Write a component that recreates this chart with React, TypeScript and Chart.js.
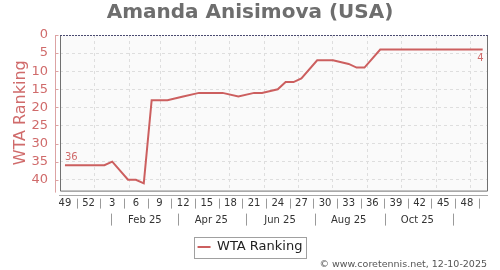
import React, { useEffect, useRef } from "react";
import { Chart, registerables } from "chart.js";

Chart.register(...registerables);

const chartTitle = "Amanda Anisimova (USA)";
const seriesLabel = "WTA Ranking";
const footerText = "© www.coretennis.net, 12-10-2025";

// one entry per week, from week 49 of 2024 to week 50 of 2025
const weekNumbers = [
  49, 50, 51, 52, 1, 2, 3, 4, 5, 6, 7, 8, 9, 10, 11, 12, 13, 14, 15, 16, 17, 18,
  19, 20, 21, 22, 23, 24, 25, 26, 27, 28, 29, 30, 31, 32, 33, 34, 35, 36, 37, 38,
  39, 40, 41, 42, 43, 44, 45, 46, 47, 48, 49, 50,
];
// null = no ranking published that week (line is joined across)
const rankings: (number | null)[] = [
  36, 36, 36, 36, 36, 36, 35, null, 40, 40, 41, 18, 18, 18, null, 17, null, 16, 16,
  16, 16, null, 17, null, 16, 16, null, 15, 13, 13, 12, null, 7, 7, 7, null, 8, 9,
  9, null, 4, 4, 4, 4, 4, 4, 4, 4, 4, 4, 4, 4, 4, 4,
];
const yTickValues = [0, 5, 10, 15, 20, 25, 30, 35, 40];
const yMaxRank = 43;

const firstWeekDate = "2024-12-06";
const monthStartDates = [
  "2025-01-01", "2025-02-01", "2025-03-01", "2025-04-01", "2025-05-01", "2025-06-01",
  "2025-07-01", "2025-08-01", "2025-09-01", "2025-10-01", "2025-11-01", "2025-12-01",
];
const monthLabels = ["Feb 25", "Apr 25", "Jun 25", "Aug 25", "Oct 25"];
const monthLabelDates = ["2025-02-15", "2025-04-15", "2025-06-15", "2025-08-15", "2025-10-15"];
const monthSeparatorDates = [
  "2025-01-16", "2025-03-16", "2025-05-16", "2025-07-16", "2025-09-16", "2025-11-16",
];

const LINE_RED = "#cc5f5f";
const TEXT_RED = "#d06b6b";
const AXIS_PINK = "#dca3a3";
const FONT = "'DejaVu Sans', sans-serif";

const DAY = 86400000;
const weekIndexOf = (d: string) => (Date.parse(d) - Date.parse(firstWeekDate)) / (7 * DAY);
const X_MIN = -0.63;
const X_MAX = weekNumbers.length - 1 + 0.55;

const decorations = {
  id: "decorations",
  beforeDraw(chart: any) {
    const { ctx, chartArea: a } = chart;
    ctx.save();
    ctx.fillStyle = "#fafafa";
    ctx.fillRect(a.left, a.top, a.right - a.left, a.bottom - a.top);
    ctx.restore();
  },
  afterDatasetsDraw(chart: any) {
    const { ctx } = chart;
    const pts = chart.getDatasetMeta(0).data;
    const firstIdx = rankings.findIndex((v) => v !== null);
    let lastIdx = rankings.length - 1;
    while (rankings[lastIdx] === null) lastIdx--;
    ctx.save();
    ctx.font = `10px ${FONT}`;
    ctx.fillStyle = TEXT_RED;
    const p0 = pts[firstIdx];
    ctx.textAlign = "left";
    ctx.textBaseline = "bottom";
    ctx.fillText(String(rankings[firstIdx]), p0.x, p0.y - 3);
    const p1 = pts[lastIdx];
    ctx.textAlign = "right";
    ctx.textBaseline = "top";
    ctx.fillText(String(rankings[lastIdx]), p1.x + 1, p1.y + 4);
    ctx.restore();
  },
  afterDraw(chart: any) {
    const { ctx, chartArea: a, scales } = chart;
    ctx.save();
    ctx.lineWidth = 1;
    // plot frame
    ctx.strokeStyle = "#707070";
    ctx.beginPath();
    ctx.moveTo(a.left + 0.5, a.top);
    ctx.lineTo(a.left + 0.5, a.bottom + 0.5);
    ctx.lineTo(a.right + 0.5, a.bottom + 0.5);
    ctx.lineTo(a.right + 0.5, a.top);
    ctx.stroke();
    ctx.setLineDash([2, 1]);
    ctx.strokeStyle = "#4a4a70";
    ctx.beginPath();
    ctx.moveTo(a.left, a.top + 0.5);
    ctx.lineTo(a.right + 1, a.top + 0.5);
    ctx.stroke();
    ctx.setLineDash([]);

    // detached y axis line with small ticks
    const ys = scales.y;
    const yl = Math.round(a.left - 5) + 0.5;
    ctx.strokeStyle = AXIS_PINK;
    ctx.beginPath();
    ctx.moveTo(yl, a.top);
    ctx.lineTo(yl, a.bottom + 2);
    yTickValues.forEach((v) => {
      const py = Math.round(ys.getPixelForValue(v)) + 0.5;
      ctx.moveTo(yl, py);
      ctx.lineTo(yl + 3, py);
    });
    ctx.stroke();

    // detached x axis line
    const xs = scales.x;
    const xl = Math.round(a.bottom + 4) + 0.5;
    ctx.strokeStyle = "#a8a8a8";
    ctx.beginPath();
    ctx.moveTo(a.left - 1, xl);
    ctx.lineTo(a.right + 1, xl);
    ctx.stroke();

    // separators between week labels
    ctx.strokeStyle = "#9a9a9a";
    ctx.beginPath();
    weekNumbers.forEach((_, i) => {
      if (i % 3 !== 0) return;
      const v = i + 1.5;
      if (v > weekNumbers.length - 1) return;
      const px = Math.round(xs.getPixelForValue(v)) + 0.5;
      ctx.moveTo(px, xs.top + 8);
      ctx.lineTo(px, xs.top + 18);
    });
    ctx.stroke();

    // separators between month labels
    const xm = scales.xm;
    ctx.beginPath();
    monthSeparatorDates.forEach((d) => {
      const px = Math.round(xm.getPixelForValue(weekIndexOf(d))) + 0.5;
      ctx.moveTo(px, xm.top + 1);
      ctx.lineTo(px, xm.top + 13);
    });
    ctx.stroke();

    // legend frame
    const hb = chart.legend && chart.legend.legendHitBoxes && chart.legend.legendHitBoxes[0];
    if (hb) {
      ctx.strokeStyle = "#a0a0a0";
      ctx.strokeRect(
        Math.round(hb.left - 4) + 0.5,
        Math.round(hb.top - 4) + 0.5,
        Math.round(hb.width + 7),
        Math.round(hb.height + 8)
      );
    }
    ctx.restore();
  },
};

export default function App() {
  const canvasRef = useRef<HTMLCanvasElement | null>(null);

  useEffect(() => {
    if (!canvasRef.current) return;
    Chart.defaults.font.family = FONT;
    const chart = new Chart(canvasRef.current, {
      type: "line",
      data: {
        datasets: [
          {
            label: seriesLabel,
            data: rankings.map((v, i) => ({ x: i, y: v })) as any,
            borderColor: LINE_RED,
            backgroundColor: LINE_RED,
            borderWidth: 2,
            pointRadius: 0,
            tension: 0,
            spanGaps: true,
            xAxisID: "x",
            yAxisID: "y",
          },
        ],
      },
      options: {
        animation: false,
        responsive: false,
        devicePixelRatio: 1,
        events: [],
        layout: { padding: { left: 0, right: 0, top: 0, bottom: 0 } },
        plugins: {
          title: {
            display: true,
            text: chartTitle,
            color: "#6e6e6e",
            font: { size: 20, weight: "bold", family: FONT },
            padding: { top: 1, bottom: 10 },
          },
          subtitle: {
            display: true,
            text: footerText,
            position: "bottom",
            align: "end",
            fullSize: false,
            color: "#555555",
            font: { size: 9.5, family: FONT },
            padding: { top: -5, bottom: 0 },
          },
          legend: {
            display: true,
            position: "bottom",
            labels: {
              usePointStyle: true,
              pointStyle: "line",
              pointStyleWidth: 13,
              color: "#222222",
              font: { size: 13, family: FONT },
              padding: 6,
            },
          },
          tooltip: { enabled: false },
        },
        scales: {
          x: {
            type: "linear",
            position: "bottom",
            weight: 1,
            min: X_MIN,
            max: X_MAX,
            afterBuildTicks: (s: any) => {
              s.ticks = weekNumbers
                .map((_, i) => ({ value: i }))
                .filter((t) => t.value % 3 === 0);
            },
            afterFit: (s: any) => {
              s.height = 22;
            },
            ticks: {
              autoSkip: false,
              maxRotation: 0,
              color: "#333333",
              font: { size: 10, family: FONT },
              padding: 7,
              callback: (v: any) => String(weekNumbers[Math.round(Number(v))]),
            },
            grid: { drawOnChartArea: false, drawTicks: false, display: false },
            border: { display: false },
          },
          xm: {
            type: "linear",
            position: "bottom",
            weight: 2,
            min: X_MIN,
            max: X_MAX,
            afterBuildTicks: (s: any) => {
              s.ticks = monthLabelDates.map((d) => ({ value: weekIndexOf(d) }));
            },
            afterFit: (s: any) => {
              s.height = 22;
            },
            ticks: {
              autoSkip: false,
              maxRotation: 0,
              color: "#333333",
              font: { size: 10, family: FONT },
              padding: 2,
              callback: (_v: any, i: number) => monthLabels[i],
            },
            grid: { display: false, drawTicks: false },
            border: { display: false },
          },
          xg: {
            type: "linear",
            position: "bottom",
            weight: 3,
            min: X_MIN,
            max: X_MAX,
            afterBuildTicks: (s: any) => {
              s.ticks = monthStartDates.map((d) => ({ value: weekIndexOf(d) }));
            },
            afterFit: (s: any) => {
              s.height = 0;
            },
            ticks: { display: false },
            grid: { drawOnChartArea: true, drawTicks: false, color: "#dedede", lineWidth: 1 },
            border: { display: false, dash: [3, 3] },
          },
          y: {
            type: "linear",
            position: "left",
            reverse: true,
            min: 0,
            max: yMaxRank,
            afterBuildTicks: (s: any) => {
              s.ticks = yTickValues.map((v) => ({ value: v }));
            },
            afterFit: (s: any) => {
              s.width = 60;
            },
            ticks: {
              color: TEXT_RED,
              font: { size: 13, family: FONT },
              padding: 12,
            },
            title: {
              display: true,
              text: seriesLabel,
              color: TEXT_RED,
              font: { size: 16, family: FONT },
              padding: { top: 11, bottom: 0 },
            },
            grid: {
              drawTicks: false,
              color: (c: any) => (c.tick && c.tick.value === 0 ? "rgba(0,0,0,0)" : "#dedede"),
            },
            border: { display: false, dash: [3, 3] },
          },
          yr: {
            type: "linear",
            position: "right",
            min: 0,
            max: 1,
            afterFit: (s: any) => {
              s.width = 13;
            },
            ticks: { display: false },
            grid: { display: false },
            border: { display: false },
          },
        },
      } as any,
      plugins: [decorations],
    });
    return () => chart.destroy();
  }, []);

  return (
    <div style={{ position: "fixed", left: 0, top: 0, width: 500, height: 270, background: "#ffffff" }}>
      <canvas ref={canvasRef} width={500} height={270} style={{ display: "block" }} />
    </div>
  );
}
